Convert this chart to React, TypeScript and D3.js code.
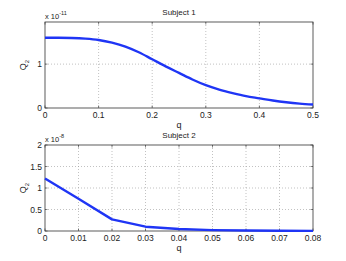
import React, { useEffect, useRef } from 'react';
import * as d3 from 'd3';

// Subject 1 (values x 1e-11)
const q1 = [0, 0.025, 0.05, 0.075, 0.1, 0.125, 0.15, 0.175, 0.2, 0.225, 0.25, 0.275, 0.3, 0.325, 0.35, 0.375, 0.4, 0.425, 0.45, 0.475, 0.5];
const v1 = [1.6, 1.6, 1.595, 1.58, 1.55, 1.49, 1.4, 1.27, 1.11, 0.95, 0.8, 0.65, 0.52, 0.42, 0.34, 0.27, 0.22, 0.17, 0.13, 0.1, 0.08];
const xTicks1 = [0, 0.1, 0.2, 0.3, 0.4, 0.5];
const yTicks1 = [0, 1];

// Subject 2 (values x 1e-8)
const q2 = [0, 0.01, 0.02, 0.03, 0.04, 0.05, 0.06, 0.07, 0.08];
const v2 = [1.22, 0.75, 0.27, 0.1, 0.045, 0.02, 0.01, 0.005, 0.003];
const xTicks2 = [0, 0.01, 0.02, 0.03, 0.04, 0.05, 0.06, 0.07, 0.08];
const yTicks2 = [0, 0.5, 1, 1.5, 2];

const W = 346;
const H = 261;

const App: React.FC = () => {
    const svgRef = useRef<SVGSVGElement>(null);

    useEffect(() => {
        const svg = d3.select(svgRef.current);
        svg.selectAll('*').remove();
        svg.append('rect').attr('width', W).attr('height', H).attr('fill', '#fff');

        const font = 'Liberation Sans, Arial, sans-serif';

        const panel = (opts: {
            top: number; bottom: number; xs: number[]; ys: number[];
            xDomain: [number, number]; yDomain: [number, number];
            xTicks: number[]; yTicks: number[]; title: string; exp: string;
            curve: d3.CurveFactory;
        }) => {
            const left = 45, right = 313;
            const x = d3.scaleLinear().domain(opts.xDomain).range([left, right]);
            const y = d3.scaleLinear().domain(opts.yDomain).range([opts.bottom, opts.top]);
            const g = svg.append('g');

            // grid
            g.selectAll('.vg').data(opts.xTicks.slice(1, -1)).enter().append('line')
                .attr('x1', d => x(d)).attr('x2', d => x(d))
                .attr('y1', opts.top).attr('y2', opts.bottom)
                .attr('stroke', '#999').attr('stroke-width', 0.6).attr('stroke-dasharray', '1,2');
            g.selectAll('.hg').data(opts.yTicks.filter(t => t > opts.yDomain[0] && t < opts.yDomain[1])).enter().append('line')
                .attr('x1', left).attr('x2', right)
                .attr('y1', d => y(d)).attr('y2', d => y(d))
                .attr('stroke', '#999').attr('stroke-width', 0.6).attr('stroke-dasharray', '1,2');

            // box
            g.append('rect').attr('x', left).attr('y', opts.top)
                .attr('width', right - left).attr('height', opts.bottom - opts.top)
                .attr('fill', 'none').attr('stroke', '#333').attr('stroke-width', 0.8);

            // ticks inside
            opts.xTicks.forEach(t => {
                g.append('line').attr('x1', x(t)).attr('x2', x(t)).attr('y1', opts.bottom).attr('y2', opts.bottom - 2.5).attr('stroke', '#333').attr('stroke-width', 0.6);
                g.append('line').attr('x1', x(t)).attr('x2', x(t)).attr('y1', opts.top).attr('y2', opts.top + 2.5).attr('stroke', '#333').attr('stroke-width', 0.6);
            });
            opts.yTicks.forEach(t => {
                g.append('line').attr('x1', left).attr('x2', left + 2.5).attr('y1', y(t)).attr('y2', y(t)).attr('stroke', '#333').attr('stroke-width', 0.6);
                g.append('line').attr('x1', right).attr('x2', right - 2.5).attr('y1', y(t)).attr('y2', y(t)).attr('stroke', '#333').attr('stroke-width', 0.6);
            });

            // tick labels
            g.selectAll('.xl').data(opts.xTicks).enter().append('text')
                .attr('x', d => x(d)).attr('y', opts.bottom + 10)
                .attr('text-anchor', 'middle').attr('font-family', font).attr('font-size', 8.5).attr('fill', '#222')
                .text(d => String(d));
            g.selectAll('.yl').data(opts.yTicks).enter().append('text')
                .attr('x', left - 3).attr('y', d => y(d) + 3)
                .attr('text-anchor', 'end').attr('font-family', font).attr('font-size', 8.5).attr('fill', '#222')
                .text(d => String(d));

            // axis labels
            g.append('text').attr('x', (left + right) / 2).attr('y', opts.bottom + 20)
                .attr('text-anchor', 'middle').attr('font-family', font).attr('font-size', 9).attr('fill', '#222').text('q');
            const yl = g.append('text')
                .attr('transform', `translate(26,${(opts.top + opts.bottom) / 2}) rotate(-90)`)
                .attr('text-anchor', 'middle').attr('font-family', font).attr('font-size', 9).attr('fill', '#222');
            yl.append('tspan').text('Q');
            yl.append('tspan').attr('font-size', 6).attr('dy', 2.5).text('2');

            // title
            g.append('text').attr('x', (left + right) / 2).attr('y', opts.top - 7)
                .attr('text-anchor', 'middle').attr('font-family', font).attr('font-size', 8).attr('fill', '#222').text(opts.title);

            // exponent
            const ex = g.append('text').attr('x', left).attr('y', opts.top - 3)
                .attr('font-family', font).attr('font-size', 7.5).attr('fill', '#222');
            ex.append('tspan').text('x 10');
            ex.append('tspan').attr('font-size', 5.5).attr('dy', -4).text(opts.exp);

            // line
            const line = d3.line<number>()
                .x((_, i) => x(opts.xs[i]))
                .y(d => y(d))
                .curve(opts.curve);
            g.append('path').datum(opts.ys).attr('d', line)
                .attr('fill', 'none').attr('stroke', '#1f35f5').attr('stroke-width', 2.4)
                .attr('stroke-linejoin', 'round');
        };

        panel({
            top: 22, bottom: 108, xs: q1, ys: v1, xDomain: [0, 0.5], yDomain: [0, 1.96],
            xTicks: xTicks1, yTicks: yTicks1, title: 'Subject 1', exp: '-11', curve: d3.curveMonotoneX
        });
        panel({
            top: 145, bottom: 231, xs: q2, ys: v2, xDomain: [0, 0.08], yDomain: [0, 2],
            xTicks: xTicks2, yTicks: yTicks2, title: 'Subject 2', exp: '-8', curve: d3.curveLinear
        });
    }, []);

    return (
        <svg ref={svgRef} width={W} height={H}
            style={{ position: 'absolute', left: 0, top: 0, display: 'block' }} />
    );
};

export default App;
